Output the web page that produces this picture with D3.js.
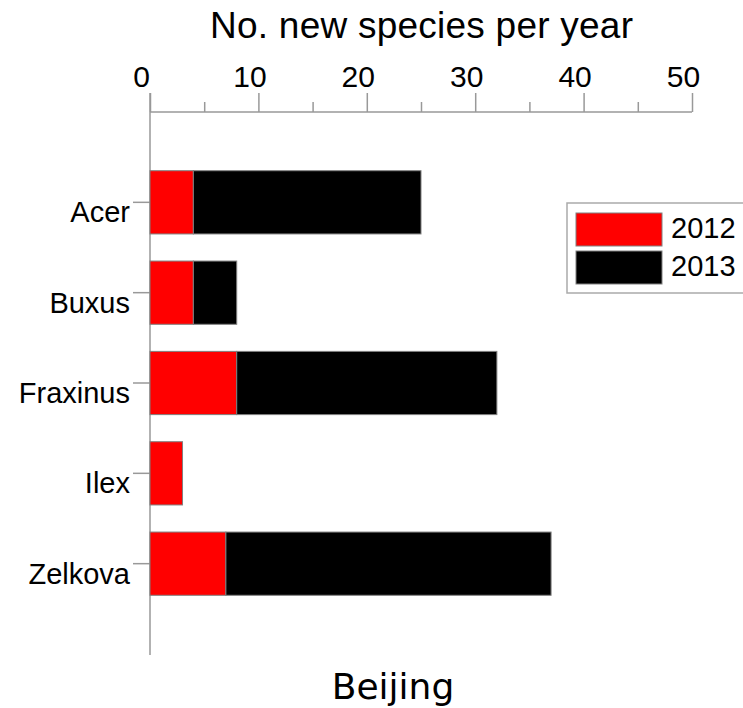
<!doctype html>
<html>
<head>
<meta charset="utf-8"/>
<script src="https://cdn.jsdelivr.net/npm/d3@7/dist/d3.min.js"></script>
<style>
  body { margin:0; background:#fff; }
  text { font-family: "Liberation Sans", Arial, sans-serif; fill:#000; }
</style>
</head>
<body>
<script>
var width = 743, height = 708;

// data
var genera = ["Acer", "Buxus", "Fraxinus", "Ilex", "Zelkova"];
var years = ["2012", "2013"];
var y2012 = [4, 4, 8, 3, 7];
var y2013 = [21, 4, 24, 0, 30];
var colors = ["#ff0000", "#000000"];
var majorTicks = [0, 10, 20, 30, 40, 50];
var minorTicks = [5, 15, 25, 35, 45];

var svg = d3.select("body").append("svg").attr("width", width).attr("height", height);

var x = d3.scaleLinear().domain([0, 50]).range([150, 692]);
var y = d3.scaleBand().domain(genera).range([112, 654]).paddingInner(0.3).paddingOuter(0.65);

var axisY = 112;

// top axis, major ticks with labels
var gx = svg.append("g").attr("transform", "translate(0," + axisY + ")")
  .call(d3.axisTop(x).tickValues(majorTicks).tickSize(19).tickFormat(d3.format("d")));
gx.select(".domain").remove();
gx.selectAll(".tick line").attr("stroke", "#999").attr("stroke-width", 1.5);
gx.selectAll(".tick text").attr("y", -25).attr("dy", 0).attr("dx", -9)
  .style("font-size", "30px").style("font-family", "Liberation Sans, Arial, sans-serif");

// minor ticks
var gm = svg.append("g").attr("transform", "translate(0," + axisY + ")")
  .call(d3.axisTop(x).tickValues(minorTicks).tickSize(10).tickFormat(""));
gm.select(".domain").remove();
gm.selectAll(".tick line").attr("stroke", "#999").attr("stroke-width", 1.5);

svg.append("line").attr("x1", x(0)).attr("x2", x(50)).attr("y1", axisY).attr("y2", axisY)
  .attr("stroke", "#999").attr("stroke-width", 1.5);
svg.append("line").attr("x1", x(0)).attr("x2", x(0)).attr("y1", axisY - 19).attr("y2", 655)
  .attr("stroke", "#999").attr("stroke-width", 1.5);

// left axis ticks and labels
var gy = svg.append("g").attr("transform", "translate(" + x(0) + ",0)")
  .call(d3.axisLeft(y).tickSize(17).tickPadding(3));
gy.select(".domain").remove();
gy.selectAll(".tick line").attr("stroke", "#999").attr("stroke-width", 1.5);
gy.selectAll(".tick text").attr("dy", 20).attr("x", -20)
  .style("font-size", "29px").style("font-family", "Liberation Sans, Arial, sans-serif");

// stacked bars
var rows = genera.map(function(g, i) { return { name: g, a: y2012[i], b: y2013[i] }; });
var stack = d3.stack().keys(["a", "b"])(rows);

svg.selectAll("g.layer").data(stack).enter().append("g").attr("class", "layer")
  .attr("fill", function(d, i) { return colors[i]; })
  .selectAll("rect").data(function(d) { return d; }).enter()
  .filter(function(d) { return d[1] - d[0] > 0; })
  .append("rect")
  .attr("x", function(d) { return x(d[0]); })
  .attr("width", function(d) { return x(d[1]) - x(d[0]); })
  .attr("y", function(d) { return y(d.data.name); })
  .attr("height", y.bandwidth())
  .attr("stroke", "#808080").attr("stroke-width", 1);

// title
svg.append("text").attr("x", 421.5).attr("y", 38).attr("text-anchor", "middle")
  .attr("textLength", 423).attr("lengthAdjust", "spacing")
  .style("font-size", "37px").text("No. new species per year");

// legend
var lg = svg.append("g");
lg.append("rect").attr("x", 567).attr("y", 203).attr("width", 200).attr("height", 90)
  .attr("fill", "#fff").attr("stroke", "#aaa").attr("stroke-width", 1.5);
years.forEach(function(yr, i) {
  lg.append("rect").attr("x", 576).attr("y", 213 + i * 38).attr("width", 86).attr("height", 33)
    .attr("fill", colors[i]).attr("stroke", "#808080").attr("stroke-width", 1);
  lg.append("text").attr("x", 671).attr("y", 238 + i * 38).style("font-size", "29px").text(yr);
});

// city label
svg.append("text").attr("x", 393).attr("y", 699).attr("text-anchor", "middle")
  .style("font-family", "DejaVu Sans, Verdana, sans-serif").style("font-size", "36px").text("Beijing");
</script>
</body>
</html>
